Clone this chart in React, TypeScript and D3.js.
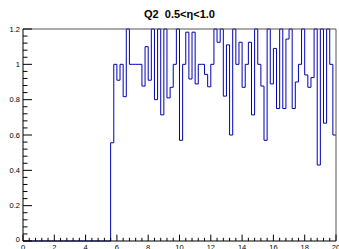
import React, { useRef, useEffect } from 'react';
import * as d3 from 'd3';

// histogram: 100 bins from 0 to 20, values above 1.2 are clipped by the frame
const xMin = 0;
const xMax = 20;
const binValues = [
  0, 0, 0, 0, 0, 0, 0, 0, 0, 0,
  0, 0, 0, 0, 0, 0, 0, 0, 0, 0,
  0, 0, 0, 0, 0, 0, 0, 0, 0.556, 1.0,
  0.91, 1.0, 0.817, 1.33, 1.0, 1.0, 1.0, 1.0, 0.877, 1.1,
  0.91, 1.33, 0.8, 1.5, 0.714, 1.25, 0.81, 0.87, 1.0, 1.33,
  0.57, 1.0, 1.182, 0.917, 1.182, 0.889, 1.0, 1.0, 0.943, 0.873,
  1.0, 1.4, 1.125, 1.33, 0.82, 1.11, 0.6, 1.5, 1.0, 1.125,
  0.87, 1.0, 1.125, 0.714, 1.33, 1.0, 0.877, 0.57, 1.25, 0.889,
  1.09, 0.75, 1.33, 0.75, 1.143, 1.5, 0.75, 0.9, 1.0, 1.33,
  0.94, 0.87, 0.925, 1.4, 0.43, 1.33, 0.667, 1.25, 1.0, 0.6,
];
const xTicks = [0, 2, 4, 6, 8, 10, 12, 14, 16, 18, 20];
const xTickLabels = ['0', '2', '4', '6', '8', '10', '12', '14', '16', '18', '20'];
const yTicks = [0, 0.2, 0.4, 0.6, 0.8, 1, 1.2];
const yTickLabels = ['0', '0.2', '0.4', '0.6', '0.8', '1', '1.2'];
const title = 'Q2  0.5<η<1.0';

const W = 339;
const H = 249;
const font = '"Liberation Sans", Arial, Helvetica, sans-serif';

const App = () => {
  const svgRef = useRef<SVGSVGElement>(null);

  useEffect(() => {
    const svg = d3.select(svgRef.current);
    svg.selectAll('*').remove();

    const left = 23, right = 336, top = 29, bottom = 241;
    const yMax = 1.2;

    const x = d3.scaleLinear().domain([xMin, xMax]).range([left, right]);
    const y = d3.scaleLinear().domain([0, yMax]).range([bottom, top]);

    const nBins = binValues.length;
    const bw = (xMax - xMin) / nBins;

    // step outline points
    const pts: [number, number][] = [];
    binValues.forEach((v, i) => {
      const vv = Math.min(v, yMax);
      pts.push([xMin + i * bw, vv]);
      pts.push([xMin + (i + 1) * bw, vv]);
    });

    const line = d3.line<[number, number]>()
      .x(d => x(d[0]))
      .y(d => y(d[1]));

    svg.append('path')
      .attr('d', line(pts))
      .attr('fill', 'none')
      .attr('stroke', '#0000b4')
      .attr('stroke-width', 1);

    // frame top and right
    svg.append('path')
      .attr('d', `M${left},${top}H${right}V${bottom}`)
      .attr('fill', 'none')
      .attr('stroke', '#555')
      .attr('stroke-width', 1);

    // y axis
    const ya = svg.append('g');
    ya.append('line')
      .attr('x1', left).attr('x2', left)
      .attr('y1', top).attr('y2', bottom)
      .attr('stroke', 'black');
    const yMinor = d3.range(0, 31).map(k => k * 0.04);
    ya.selectAll('line.minor')
      .data(yMinor)
      .join('line')
      .attr('class', 'minor')
      .attr('x1', left).attr('x2', d => left + (Math.abs(d / 0.2 - Math.round(d / 0.2)) < 1e-6 ? 9 : 4.5))
      .attr('y1', d => y(d)).attr('y2', d => y(d))
      .attr('stroke', 'black');
    ya.selectAll('text')
      .data(yTicks)
      .join('text')
      .attr('x', 20)
      .attr('y', d => (d === 0 ? y(d) - 2 : y(d)))
      .attr('dy', '0.35em')
      .attr('text-anchor', 'end')
      .attr('font-family', font)
      .attr('font-size', '7.5px')
      .text((d, i) => yTickLabels[i]);

    // x axis
    const xa = svg.append('g');
    xa.append('line')
      .attr('x1', left).attr('x2', right)
      .attr('y1', bottom).attr('y2', bottom)
      .attr('stroke', 'black');
    const xMinor = d3.range(0, 51).map(k => k * 0.4);
    xa.selectAll('line.minor')
      .data(xMinor)
      .join('line')
      .attr('class', 'minor')
      .attr('x1', d => x(d)).attr('x2', d => x(d))
      .attr('y1', bottom).attr('y2', d => bottom - (Math.abs(d / 2 - Math.round(d / 2)) < 1e-6 ? 6.4 : 3.2))
      .attr('stroke', 'black');
    xa.selectAll('text')
      .data(xTicks)
      .join('text')
      .attr('x', d => x(d))
      .attr('y', 250)
      .attr('text-anchor', 'middle')
      .attr('font-family', font)
      .attr('font-size', '7.5px')
      .text((d, i) => xTickLabels[i]);

    // title
    svg.append('text')
      .attr('x', (left + right) / 2)
      .attr('y', 18)
      .attr('text-anchor', 'middle')
      .attr('font-family', font)
      .attr('font-weight', 'bold')
      .attr('font-size', '11px')
      .style('white-space', 'pre')
      .text(title);
  }, []);

  return (
    <svg
      ref={svgRef}
      width={W}
      height={H}
      style={{ position: 'absolute', left: 0, top: 0, display: 'block', background: 'white' }}
    />
  );
};

export default App;
